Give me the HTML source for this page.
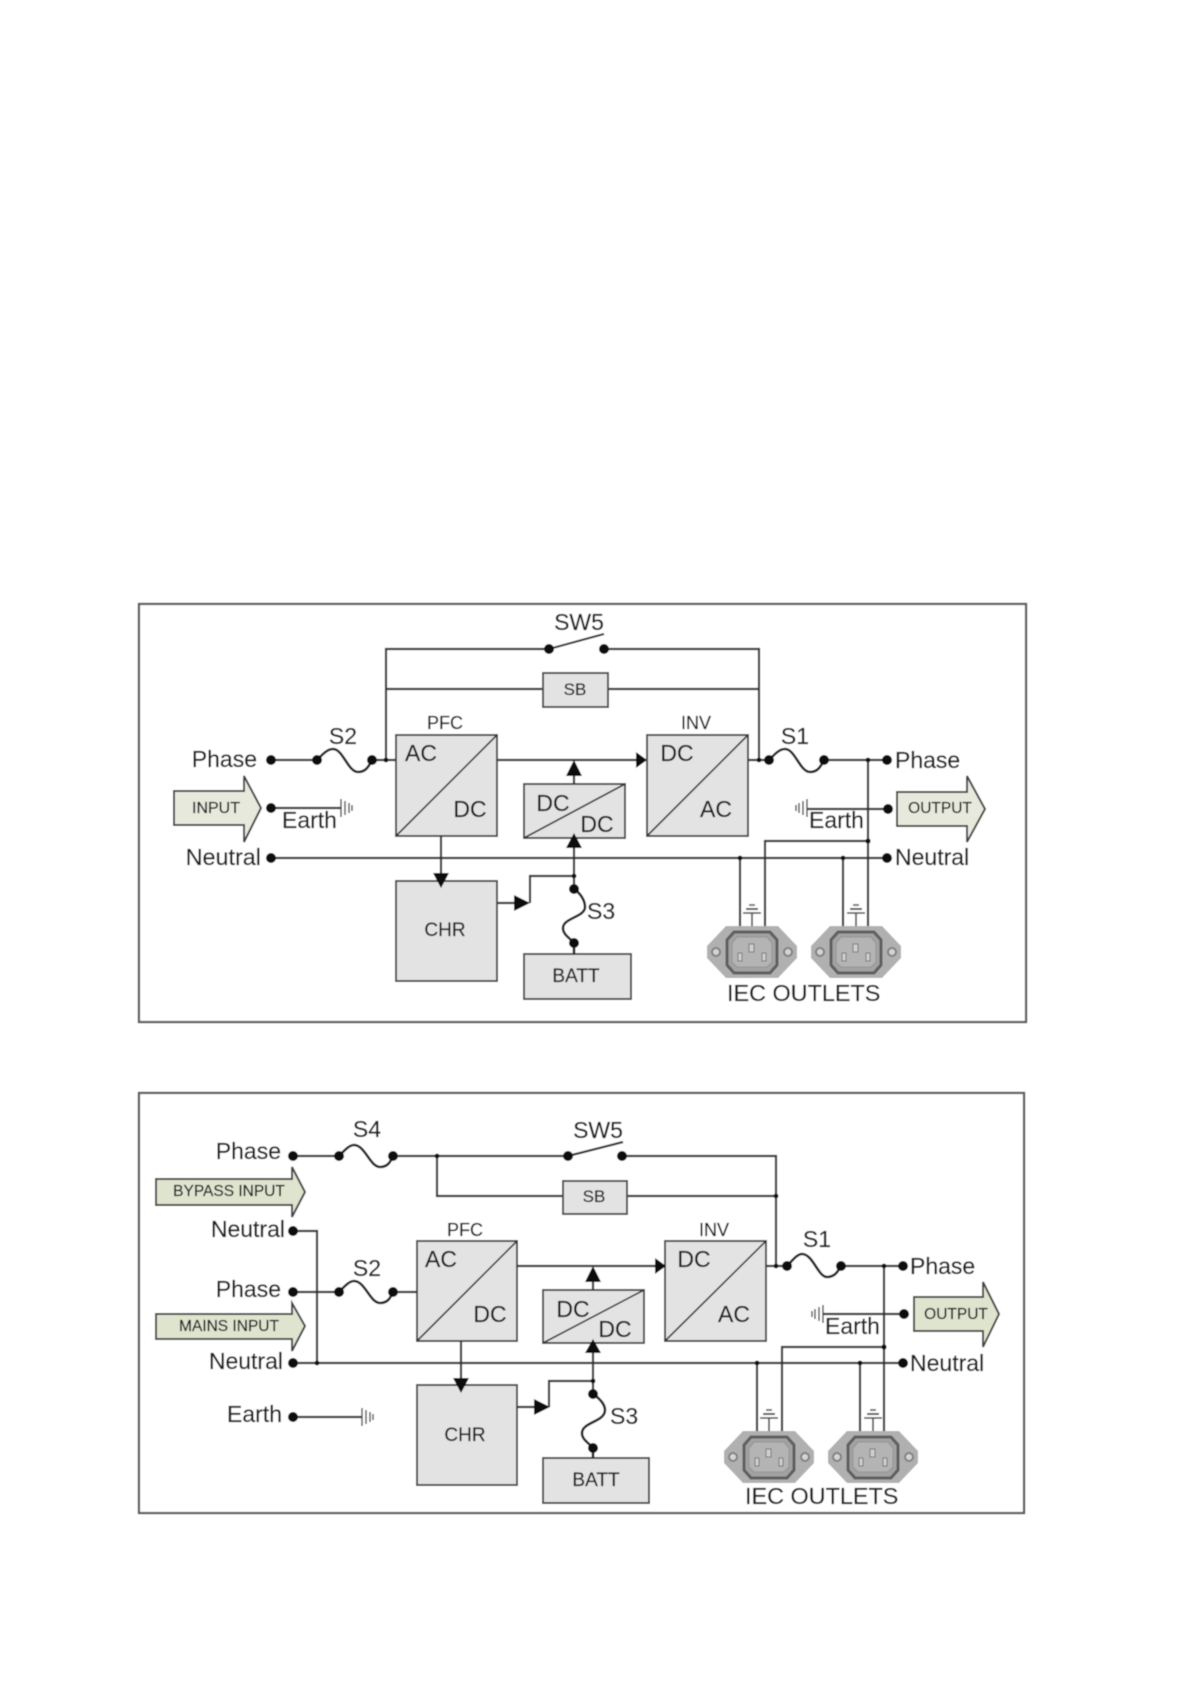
<!DOCTYPE html>
<html><head><meta charset="utf-8"><style>
html,body{margin:0;padding:0;background:#fff}
svg{display:block}
text{font-family:"Liberation Sans",sans-serif;fill:#1f1f1f;font-size:23px;stroke:#1f1f1f;stroke-width:.25}
.b{fill:#e3e3e3;stroke:#4a4a4a;stroke-width:2}
.f{fill:#e7e9dc;stroke:#444;stroke-width:2}
.l{fill:none;stroke:#333;stroke-width:2.2}
.t{fill:none;stroke:#333;stroke-width:1.6}
.s{fill:none;stroke:#222;stroke-width:2.6}
.m{text-anchor:middle}
.e{text-anchor:end}
.s18{font-size:18px}
.s16{font-size:15.5px}
</style></head><body>
<svg width="1190" height="1684" viewBox="0 0 1190 1684" xmlns="http://www.w3.org/2000/svg">
<defs>
<filter id="bl" x="-2%" y="-2%" width="104%" height="104%"><feGaussianBlur stdDeviation="0.55"/></filter>
<g id="outlet">
<line x1="0" y1="-26" x2="0" y2="-39" stroke="#444" stroke-width="1.6"/>
<line x1="-9" y1="-39" x2="9" y2="-39" stroke="#444" stroke-width="1.6"/>
<line x1="-6" y1="-43" x2="6" y2="-43" stroke="#555" stroke-width="2"/>
<line x1="-3" y1="-47" x2="3" y2="-47" stroke="#777" stroke-width="2"/>
<polygon points="-26,-26 26,-26 45,-6 45,6 26,26 -26,26 -45,6 -45,-6" fill="#b0b0b0"/>
<path d="M-18,-20 H18 L25,-12 V13 L18,21 H-18 L-25,13 V-12 Z" fill="#a2a2a2" stroke="#5e5e5e" stroke-width="3"/>
<path d="M-15,-15 H15 L20,-9 V10 L15,15 H-15 L-20,10 V-9 Z" fill="#b4b4b4" stroke="#949494" stroke-width="1"/>
<rect x="-14" y="1" width="4" height="8" fill="#cfcfcf" stroke="#777"/>
<rect x="-3" y="-8" width="5" height="8" fill="#cfcfcf" stroke="#777"/>
<rect x="10" y="1" width="4" height="8" fill="#cfcfcf" stroke="#777"/>
<circle cx="-36" cy="0" r="4" fill="#d4d4d4" stroke="#808080" stroke-width="2"/>
<circle cx="36" cy="0" r="4" fill="#d4d4d4" stroke="#808080" stroke-width="2"/>
</g>
<path id="gr" d="M0,-9 V9 M4,-7 V7 M8,-5 V5 M11,-3 V3" fill="none" stroke="#444" stroke-width="1.4"/>
<path id="gl" d="M0,-9 V9 M-4,-7 V7 M-8,-5 V5 M-11,-3 V3" fill="none" stroke="#444" stroke-width="1.4"/>
</defs>
<rect width="1190" height="1684" fill="#fff"/>
<g filter="url(#bl)">

<!-- TOP DIAGRAM -->
<rect x="139" y="604" width="887" height="418" fill="#fff" stroke="#5c5c5c" stroke-width="2.2"/>
<path class="l" d="M386 760 V649 H549 M549 649 L604 634 M604 649 H759 V760 M386 689 H543 M608 689 H759"/>
<rect class="b" x="543" y="673" width="65" height="34"/>
<rect class="b" x="396" y="735" width="101" height="101"/>
<line class="t" x1="396" y1="836" x2="497" y2="735"/>
<rect class="b" x="647" y="735" width="101" height="101"/>
<line class="t" x1="647" y1="836" x2="748" y2="735"/>
<rect class="b" x="524" y="784" width="101" height="54"/>
<line class="t" x1="524" y1="838" x2="625" y2="784"/>
<rect class="b" x="396" y="881" width="101" height="100"/>
<rect class="b" x="524" y="954" width="107" height="45"/>
<path class="l" d="M271 760 H317 M372 760 H396 M497 760 H640 M748 760 H769 M824 760 H887"/>
<path class="s" d="M317 760 C322 755 327 749 333 749 C343 749 348 772 358 772 C365 772 368 768 372 760"/>
<path class="s" d="M769 760 C774 755 779 749 785 749 C795 749 800 772 810 772 C817 772 820 768 824 760"/>
<path class="l" d="M271 858 H887"/>
<path class="l" d="M271 808 H341 M888 809 H807"/>
<use href="#gr" x="341" y="808"/><use href="#gl" x="807" y="808"/>
<path class="l" d="M574 784 V776 M574 848 V889 M441 836 V875 M497 903 H516 M530 903 V876 H574"/>
<path class="s" d="M574 889 C580 893 585 900 585 907 C585 917 563 918 563 928 C563 935 570 938 574 943 V954"/>
<polygon points="574,760 582,776 566,776" fill="#111"/>
<polygon points="574,833 582,848 566,848" fill="#111"/>
<polygon points="636,752 647,760 636,768" fill="#111"/>
<polygon points="433,873 449,873 441,888" fill="#111"/>
<polygon points="514,895 530,903 514,911" fill="#111"/>
<path class="l" d="M868 760 V927 M765 927 V841 H868 M740 858 V927 M843 858 V927"/>
<use href="#outlet" x="752" y="952"/><use href="#outlet" x="856" y="952"/>
<polygon class="f" points="174,791 244,791 244,776 261,808 244,842 244,825 174,825"/>
<polygon class="f" points="897,792 967,792 967,776 985,809 967,842 967,826 897,826"/>
<g fill="#111">
<circle cx="271" cy="760" r="5"/><circle cx="271" cy="808" r="5"/><circle cx="271" cy="858" r="5"/>
<circle cx="317" cy="760" r="5"/><circle cx="372" cy="760" r="5"/><circle cx="386" cy="760" r="2.4"/>
<circle cx="549" cy="649" r="5"/><circle cx="604" cy="649" r="5"/>
<circle cx="574" cy="876" r="2.4"/><circle cx="574" cy="889" r="5"/><circle cx="574" cy="943" r="5"/>
<circle cx="759" cy="760" r="2.4"/><circle cx="769" cy="760" r="5"/><circle cx="824" cy="760" r="5"/>
<circle cx="868" cy="760" r="2.4"/><circle cx="887" cy="760" r="5"/><circle cx="888" cy="809" r="5"/><circle cx="887" cy="858" r="5"/>
<circle cx="868" cy="841" r="2.6"/><circle cx="740" cy="858" r="2.4"/><circle cx="843" cy="858" r="2.4"/>
</g>
<text class="m" x="579" y="630">SW5</text>
<text class="m" x="575" y="695" style="font-size:17px">SB</text>
<text class="m s18" x="445" y="729">PFC</text>
<text class="m s18" x="696" y="729">INV</text>
<text class="m" x="421" y="761">AC</text><text class="m" x="470" y="817">DC</text>
<text class="m" x="677" y="761">DC</text><text class="m" x="716" y="817">AC</text>
<text class="m" x="553" y="811">DC</text><text class="m" x="597" y="832">DC</text>
<text class="m" x="343" y="744">S2</text><text class="m" x="795" y="744">S1</text>
<text x="587" y="919">S3</text>
<text class="e" x="257" y="767">Phase</text>
<text class="e" x="261" y="865" style="font-size:23.4px">Neutral</text>
<text x="282" y="828">Earth</text>
<text x="895" y="768">Phase</text>
<text x="809" y="828">Earth</text>
<text x="895" y="865">Neutral</text>
<text class="m" x="216" y="813" style="font-size:16px">INPUT</text>
<text class="m" x="940" y="813" style="font-size:15.5px">OUTPUT</text>
<text class="m" x="445" y="936" style="font-size:19px">CHR</text>
<text class="m" x="576" y="982" style="font-size:19px">BATT</text>
<text x="727" y="1001" style="font-size:23.4px">IEC OUTLETS</text>

<!-- BOTTOM DIAGRAM -->
<rect x="139" y="1093" width="885" height="420" fill="#fff" stroke="#5c5c5c" stroke-width="2.2"/>
<path class="l" d="M293 1156 H339 M393 1156 H568 M568 1156 L623 1142 M622 1156 H776 V1266 M437 1156 V1196 H563 M627 1196 H776"/>
<rect class="b" x="563" y="1181" width="64" height="33"/>
<rect class="b" x="417" y="1241" width="100" height="100"/>
<line class="t" x1="417" y1="1341" x2="517" y2="1241"/>
<rect class="b" x="665" y="1241" width="101" height="100"/>
<line class="t" x1="665" y1="1341" x2="766" y2="1241"/>
<rect class="b" x="543" y="1290" width="101" height="53"/>
<line class="t" x1="543" y1="1343" x2="644" y2="1290"/>
<rect class="b" x="417" y="1385" width="100" height="100"/>
<rect class="b" x="543" y="1458" width="106" height="45"/>
<path class="s" d="M339 1156 C344 1151 349 1145 354 1145 C365 1145 370 1167 380 1167 C387 1167 390 1163 393 1156"/>
<path class="s" d="M339 1292 C344 1287 349 1281 354 1281 C365 1281 370 1303 380 1303 C387 1303 390 1299 393 1292"/>
<path class="s" d="M787 1266 C792 1261 797 1254 802 1254 C813 1254 818 1277 827 1277 C834 1277 837 1273 841 1266"/>
<path class="l" d="M293 1231 H317 V1363 M293 1292 H339 M393 1292 H417 M293 1363 H903 M517 1266 H658 M766 1266 H787 M841 1266 H903"/>
<path class="l" d="M293 1417 H362 M904 1314 H823"/>
<use href="#gr" x="362" y="1417"/><use href="#gl" x="823" y="1314"/>
<path class="l" d="M593 1290 V1282 M593 1353 V1394 M461 1341 V1380 M517 1407 H536 M549 1407 V1381 H593"/>
<path class="s" d="M593 1394 C599 1398 605 1404 605 1410 C605 1422 582 1422 582 1433 C582 1440 589 1443 593 1448 V1458"/>
<polygon points="593,1266 601,1282 585,1282" fill="#111"/>
<polygon points="593,1339 601,1353 585,1353" fill="#111"/>
<polygon points="655,1258 666,1266 655,1274" fill="#111"/>
<polygon points="453,1378 469,1378 461,1393" fill="#111"/>
<polygon points="534,1399 550,1407 534,1415" fill="#111"/>
<path class="l" d="M884 1266 V1432 M782 1432 V1347 H884 M757 1363 V1432 M860 1363 V1432"/>
<use href="#outlet" x="769" y="1457"/><use href="#outlet" x="873" y="1457"/>
<polygon class="f" points="156,1179 292,1179 292,1167 305,1192 292,1217 292,1205 156,1205" style="fill:#dfe4cf"/>
<polygon class="f" points="156,1314 292,1314 292,1303 305,1326 292,1351 292,1339 156,1339" style="fill:#dfe4cf"/>
<polygon class="f" points="914,1297 983,1297 983,1282 999,1314 983,1347 983,1331 914,1331" style="fill:#dfe4cf"/>
<g fill="#111">
<circle cx="293" cy="1156" r="5"/><circle cx="293" cy="1231" r="5"/><circle cx="293" cy="1292" r="5"/><circle cx="293" cy="1363" r="5"/><circle cx="293" cy="1417" r="5"/>
<circle cx="339" cy="1156" r="5"/><circle cx="393" cy="1156" r="5"/><circle cx="339" cy="1292" r="5"/><circle cx="393" cy="1292" r="5"/>
<circle cx="437" cy="1156" r="2.4"/><circle cx="568" cy="1156" r="5"/><circle cx="622" cy="1156" r="5"/>
<circle cx="317" cy="1363" r="2.4"/><circle cx="776" cy="1196" r="2.4"/><circle cx="776" cy="1266" r="2.4"/>
<circle cx="593" cy="1381" r="2.4"/><circle cx="593" cy="1394" r="5"/><circle cx="593" cy="1448" r="5"/>
<circle cx="787" cy="1266" r="5"/><circle cx="841" cy="1266" r="5"/><circle cx="884" cy="1266" r="2.4"/><circle cx="903" cy="1266" r="5"/>
<circle cx="904" cy="1314" r="5"/><circle cx="903" cy="1363" r="5"/>
<circle cx="884" cy="1347" r="2.6"/><circle cx="757" cy="1363" r="2.4"/><circle cx="860" cy="1363" r="2.4"/>
</g>
<text class="m" x="367" y="1137">S4</text>
<text class="m" x="598" y="1138">SW5</text>
<text class="m" x="594" y="1202" style="font-size:17px">SB</text>
<text class="m s18" x="465" y="1236">PFC</text>
<text class="m s18" x="714" y="1236">INV</text>
<text class="m" x="441" y="1267">AC</text><text class="m" x="490" y="1322">DC</text>
<text class="m" x="694" y="1267">DC</text><text class="m" x="734" y="1322">AC</text>
<text class="m" x="573" y="1317">DC</text><text class="m" x="615" y="1337">DC</text>
<text class="m" x="367" y="1276">S2</text><text class="m" x="817" y="1247">S1</text>
<text x="610" y="1424">S3</text>
<text class="e" x="281" y="1159">Phase</text>
<text class="e" x="285" y="1237">Neutral</text>
<text class="e" x="281" y="1297">Phase</text>
<text class="e" x="283" y="1369">Neutral</text>
<text class="e" x="282" y="1422">Earth</text>
<text x="910" y="1274">Phase</text>
<text x="825" y="1334">Earth</text>
<text x="910" y="1371">Neutral</text>
<text class="m s16" x="229" y="1196">BYPASS INPUT</text>
<text class="m s16" x="229" y="1331">MAINS INPUT</text>
<text class="m" x="956" y="1319" style="font-size:15.5px">OUTPUT</text>
<text class="m" x="465" y="1441" style="font-size:19px">CHR</text>
<text class="m" x="596" y="1486" style="font-size:19px">BATT</text>
<text x="745" y="1504" style="font-size:23.4px">IEC OUTLETS</text>
</g>
</svg>
</body></html>
